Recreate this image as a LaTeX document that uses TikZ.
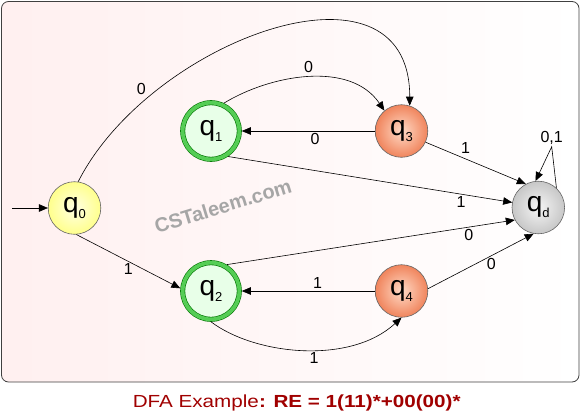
\documentclass[tikz,border=0pt]{standalone}
\usepackage{fontspec}
\setmainfont{Liberation Sans}
\usetikzlibrary{arrows.meta,positioning}

\newcommand{\qsub}[1]{{\fontsize{28}{28}\selectfont q}\raisebox{-6pt}{\fontsize{13}{13}\selectfont #1}}

\tikzset{
  state/.style={circle, draw=black!60, line width=0.6pt, minimum size=52.6pt, inner sep=0pt},
  startstate/.style={state, inner color={rgb,255:red,255;green,255;blue,228}, outer color={rgb,255:red,255;green,255;blue,140}},
  midstate/.style={state, inner color={rgb,255:red,255;green,218;blue,198}, outer color={rgb,255:red,240;green,132;blue,92}},
  deadstate/.style={state, inner color=black!4, outer color=black!22},
  acceptstate/.style={state, minimum size=56.6pt, draw=black!55!green, double={rgb,255:red,85;green,205;blue,85},
    double distance=3.8pt, fill={rgb,255:red,232;green,255;blue,232}, outer sep=2.5pt},
  lbl/.style={font=\fontsize{16}{16}\selectfont, inner sep=2pt},
}

\begin{document}
\begin{tikzpicture}[x=1pt, y=-1pt, line width=0.6pt, >={Triangle[length=9pt,width=7.5pt]}]
  \useasboundingbox (0,0) rectangle (583,415);
  % frame and watermark
  \draw[black!75, line width=0.8pt, rounded corners=7pt, left color=red!6, right color=white] (1.5,1.5) rectangle (579,382);
  \node[black!35, rotate=17, font=\fontsize{20}{20}\selectfont\bfseries] (wm) at (223,206) {CSTaleem.com};

  % states
  \node[startstate] (q0) at (74.5,208) {\qsub{0}};
  \node[acceptstate] (q1) at (211,131) {\qsub{1}};
  \node[midstate, right of=q1, node distance=190.5pt] (q3) {\qsub{3}};
  \node[deadstate] (qd) at (538.3,207.5) {\qsub{d}};
  \node[acceptstate] (q2) at (211,291) {\qsub{2}};
  \node[midstate, right of=q2, node distance=190.5pt] (q4) {\qsub{4}};
  \coordinate (s) at (12,208);
  \coordinate (loop) at (551.7,146.7);

  % transitions
  \draw[->] (s) -- (q0);
  \draw[->] (q0.82) .. controls (150,40) and (410,-55) .. node[lbl, pos=0.22, above left] {0} (q3.72);
  \draw[->] (q1.65) .. controls (270,75) and (350,60) .. node[lbl, above=2pt, pos=0.5] {0} (q3.130);
  \draw[->] (q3) -- node[lbl, below, pos=0.45] {0} (q1);
  \draw[->] (q3.-25) -- node[lbl, above=3pt, pos=0.4] {1} (qd.118);
  \draw[->] (q1.-56) -- node[lbl, below, pos=0.82] {1} (qd.169);
  \draw[->] (q2.59) -- node[lbl, below, pos=0.84] {0} (qd.-152);
  \draw[->] (q4.5) -- node[lbl, below, pos=0.6] {0} (qd.-100);
  \draw[->] (q4) -- node[lbl, above, pos=0.43] {1} (q2);
  \draw[->] (q2.south) .. controls (255,355) and (350,365) .. node[lbl, below, pos=0.55] {1} (q4.south);
  \draw[->] (q0.-86) -- node[lbl, below, pos=0.5] {1} (q2.175);
  \draw[->] (qd.47) -- (loop) node[lbl, above] {0,1} -- (qd.96);

  % caption
  \node[anchor=base, text={rgb,255:red,160;green,0;blue,0}] (cap) at (296.7,407)
    {\scalebox{1.18}[1]{\fontsize{17.5}{17.5}\selectfont DFA Example\textbf{: RE = 1(11)*+00(00)*}}};
\end{tikzpicture}
\end{document}
